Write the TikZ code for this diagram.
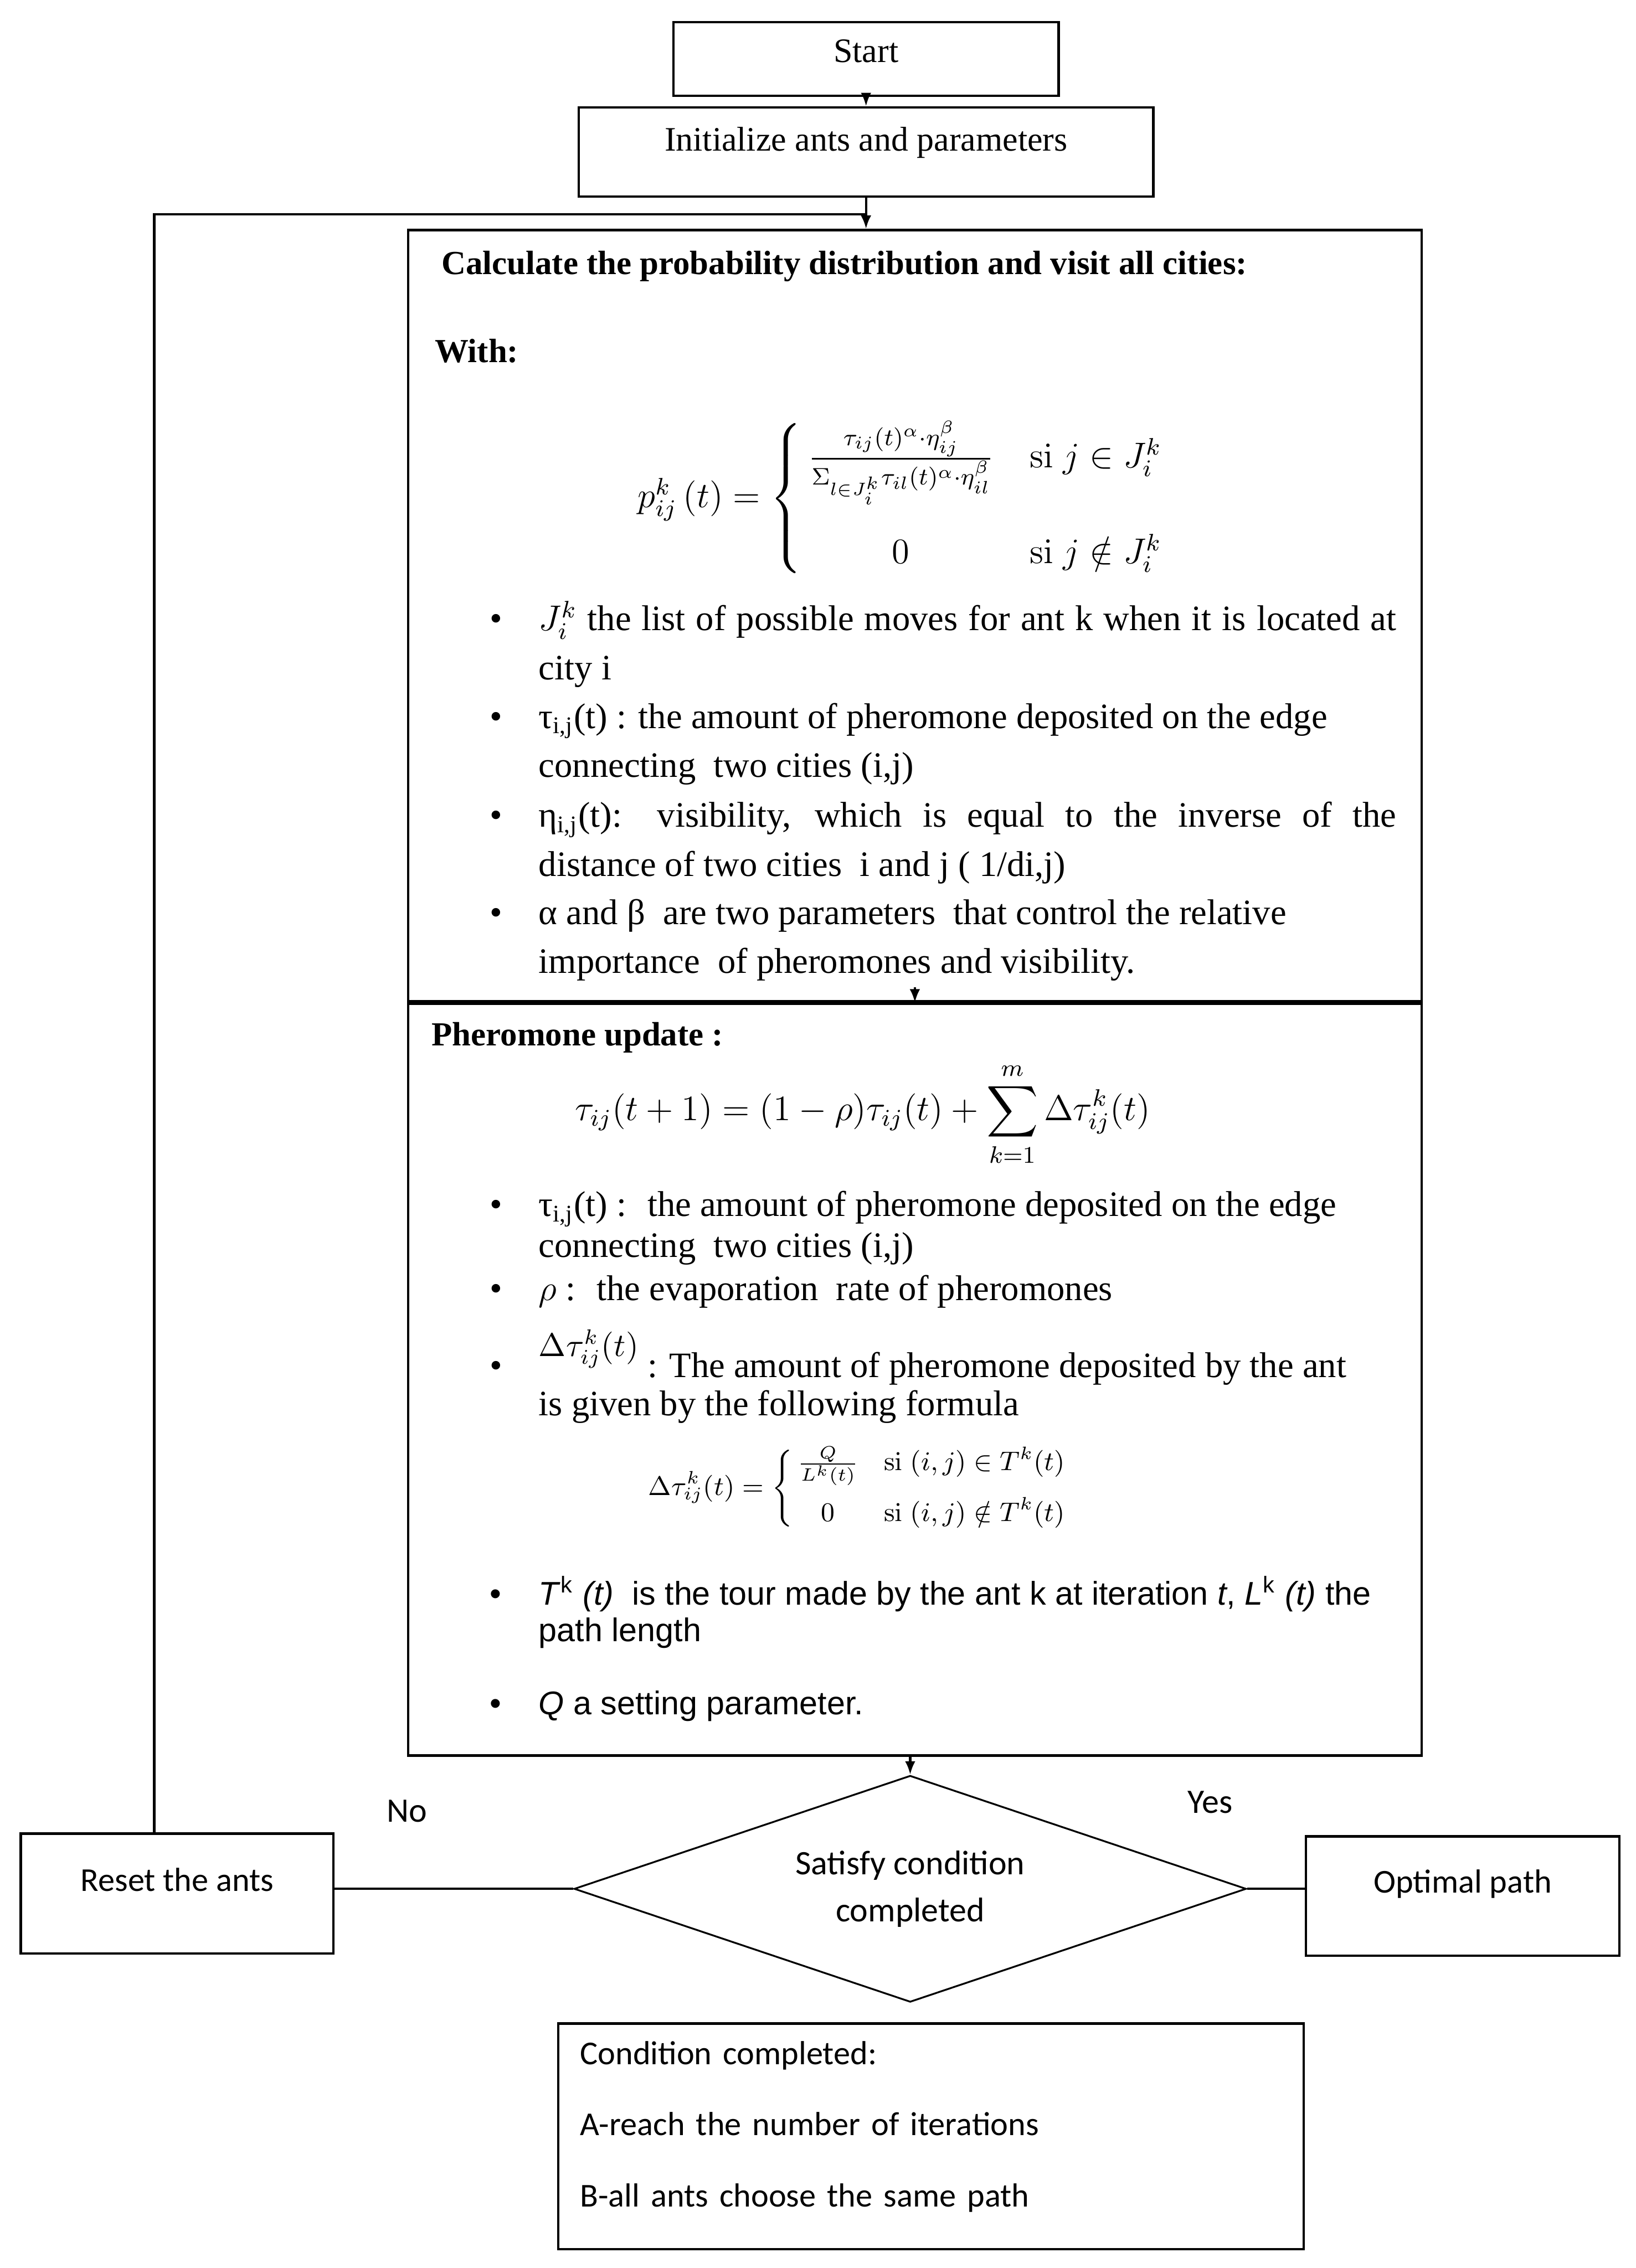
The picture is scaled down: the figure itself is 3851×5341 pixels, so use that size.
\documentclass[tikz,border=0pt]{standalone}
\usepackage{amsmath}
\usepackage{amssymb}
\usepackage[no-math]{fontspec}
\setmainfont{Liberation Serif}
\newfontfamily\arialfont{Liberation Sans}
\newfontfamily\calibrifont{Carlito}
\usepackage{tikz}
\usetikzlibrary{shapes.geometric, arrows.meta, positioning, calc}
\hyphenpenalty=10000
\exhyphenpenalty=10000
% bullet paragraph with hanging indent
\newcommand{\bulitem}[1]{\parbox[t]{10.685cm}{\leftskip=16.5pt\noindent\hspace*{-16.5pt}\makebox[16.5pt][l]{\textbullet}#1}}

\begin{document}
\begin{tikzpicture}[x=0.005cm, y=-0.005cm, line width=0.8pt,
		flowbox/.style={draw, rectangle, inner sep=0pt, font=\fontsize{11.5}{14}\selectfont},
		sidebox/.style={draw, rectangle, inner sep=0pt, font=\calibrifont\fontsize{11.2}{14}\selectfont},
		arr/.style={-{Latex[length=4.5pt,width=3.5pt]}},
		head/.style={anchor=base west, inner sep=0pt, font=\bfseries\fontsize{11.3}{14}\selectfont},
		itm/.style={anchor=base west, inner sep=0pt, font=\fontsize{12}{16.4}\selectfont},
		lbl/.style={anchor=base, inner sep=0pt, font=\calibrifont\fontsize{11.5}{14}\selectfont}]
	
	% page frame
	\fill[white] (0,0) rectangle (3851,5341);
	\useasboundingbox (0,0) rectangle (3851,5341);
	
	% 1. START AND INITIALISATION
	\node[flowbox, minimum width=4.54cm, text height=0.475cm, text depth=0.395cm] (start) at (2039,139) {Start};
	\node[flowbox, minimum width=6.77cm, text height=0.51cm, text depth=0.54cm] (init) at (2039,358) {Initialize ants and parameters};
	
	% 2. MAIN BLOCK (two stacked parts)
	\node[draw, minimum width=11.94cm, minimum height=9.09cm] (calc) at (2154,1450) {};
	\node[draw, minimum width=11.94cm, minimum height=8.86cm, anchor=north] (update) at (calc.south) {};
	
	% probability part
	\node[head] (calchead) at (1037,646) {Calculate the probability distribution and visit all cities:};
	\node[head] (with) at (1021,853) {With:};
	\node[font=\fontsize{12}{14}\selectfont] (pform) at (2140,1174)
		{$p_{ij}^{k}\,(t)=\left\{\begin{array}{@{\,}c@{\quad}l}
			\frac{\tau_{ij}(t)^{\alpha}\cdot\eta_{ij}^{\beta}}{\Sigma_{l\in J_i^k}\tau_{il}(t)^{\alpha}\cdot\eta_{il}^{\beta}} & \mathrm{si}\; j\in J_i^k\\[18pt]
			0 & \mathrm{si}\; j\notin J_i^k
		\end{array}\right.$};
	\node[itm] (jlist) at (1150,1485) {\bulitem{$J_i^{k}$ the list of possible moves for ant k when it is located at\linebreak city i}};
	\node[itm] (tau) at (1150,1715) {\bulitem{τ\textsubscript{i,j}(t) : the amount of pheromone deposited on the edge\newline connecting~ two cities (i,j)}};
	\node[itm] (eta) at (1150,1948) {\bulitem{η\textsubscript{i,j}(t): visibility, which is equal to the inverse of the\linebreak distance of two cities~ i and j ( 1/di,j)}};
	\node[itm] (ab) at (1150,2177) {\bulitem{α and β~ are two parameters~ that control the relative\newline importance~ of pheromones and visibility.}};
	
	% update part
	\node[head] (updhead) at (1014,2462) {Pheromone update :};
	\node[font=\fontsize{12}{14}\selectfont] (tauform) at (2031,2624)
		{$\displaystyle \tau_{ij}(t+1)=(1-\rho)\tau_{ij}(t)+\sum_{k=1}^{m}\Delta\tau_{ij}^{k}(t)$};
	\node[itm, font=\fontsize{12}{13.7}\selectfont] (tautwo) at (1150,2864) {\bulitem{τ\textsubscript{i,j}(t) :~ the amount of pheromone deposited on the edge\newline connecting~ two cities (i,j)}};
	\node[itm] (rho) at (1150,3062) {\bulitem{$\rho$ :~ the evaporation~ rate of pheromones}};
	\node[itm, font=\fontsize{12}{12.8}\selectfont] (dtau) at (1150,3243) {\bulitem{\raisebox{7pt}{\fontsize{10.5}{12}\selectfont$\Delta\tau_{ij}^{k}(t)$} : The amount of pheromone deposited by the ant\newline is given by the following formula}};
	\node[font=\fontsize{8.6}{10}\selectfont] (dform) at (2039,3505)
		{$\Delta\tau_{ij}^{k}(t)=\left\{\begin{array}{@{\,}c@{\quad}l}
			\frac{Q}{L^{k}(t)} & \mathrm{si}\;(i,j)\in T^{k}(t)\\[6pt]
			0 & \mathrm{si}\;(i,j)\notin T^{k}(t)
		\end{array}\right.$};
	\node[itm, font=\arialfont\fontsize{11}{12.3}\selectfont] (tour) at (1150,3779) {\bulitem{\textit{T}\textsuperscript{k} \textit{(t)}~ is the tour made by the ant k at iteration \textit{t}, \textit{L}\textsuperscript{k} \textit{(t)} the\newline path length}};
	\node[itm, font=\arialfont\fontsize{11}{12.3}\selectfont] (qpar) at (1150,4038) {\bulitem{\textit{Q} a setting parameter.}};
	
	% 3. DECISION
	\node[draw, diamond, aspect=2.966, line width=0.6pt, minimum width=7.92cm, minimum height=2.67cm, inner sep=0pt, align=center,
		font=\calibrifont\fontsize{11.5}{15.8}\selectfont] (dec) at (2143,4448) {Satisfy condition\\completed};
	\node[sidebox, minimum width=3.685cm, text height=0.675cm, text depth=0.735cm] (reset) at (417,4459) {Reset the ants};
	\node[sidebox, minimum width=3.695cm, text height=0.665cm, text depth=0.74cm] (optimal) at (3444,4465) {Optimal path};
	\node[lbl] (no) at (958,4290) {No};
	\node[lbl] (yes) at (2849,4270) {Yes};
	
	% stop conditions
	\node[draw, minimum width=8.78cm, minimum height=2.66cm] (cond) at (2192,5031) {};
	\node[anchor=base west, inner sep=0pt, text width=8cm, align=left, font=\calibrifont\fontsize{11.2}{23.8}\selectfont] (condtxt) at (1363,4862)
		{Condition completed:\\A-reach the number of iterations\\B-all ants choose the same path};
	
	% 4. CONNECTORS
	\draw[arr] (start.south) -- (init.north);
	\draw[arr] (init.south) -- (init.south |- calc.north);
	\coordinate (turn) at (363,505);
	\draw (reset.north -| turn) |- (init.south |- turn);
	\coordinate (calcout) at ($(update.north)+(0,0.18cm)$);
	\draw[arr] (calcout) -- (update.north);
	\draw[arr] (update.south -| dec.north) -- (dec.north);
	\draw (dec.west) -- (dec.west -| reset.east);
	\draw (dec.east) -- (dec.east -| optimal.west);
	
\end{tikzpicture}
\end{document}
